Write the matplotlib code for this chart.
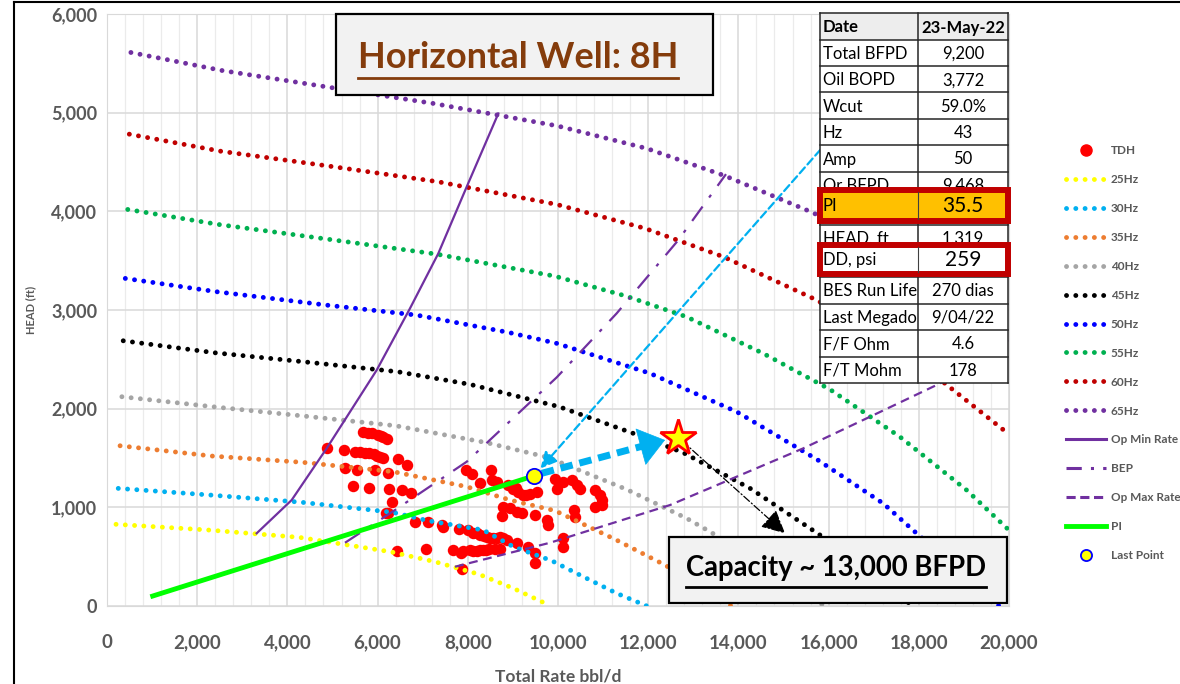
import matplotlib
matplotlib.use("Agg")
import matplotlib.pyplot as plt
from matplotlib.lines import Line2D
from matplotlib.patches import Rectangle
from matplotlib.ticker import MultipleLocator, FuncFormatter

plt.rcParams['font.family'] = ['Lato', 'DejaVu Sans']

# ---- measured TDH points (rate bbl/d, head ft) ----
tdh_x = [4880, 5680, 5780, 5870, 6010, 6070, 6130, 6210,
         5260, 5500, 5600, 5720, 5820, 5920, 5990, 6050, 6130,
         5280, 5550, 5940, 6240, 6460, 6660,
         5460, 5820, 6260, 6530, 6730, 6310, 6190, 6230, 6420, 7070,
         7950, 8085, 8270, 8505, 8530, 8640, 8900, 9010, 9120, 9230, 9380, 9525,
         9060, 9300, 8790, 8935, 9080, 9195, 8750, 9490, 9760, 9785, 10360, 10375,
         6830, 7125, 7435, 7460, 7810, 8010, 8120, 8200, 8270, 8350, 8420, 8500,
         8565, 8650, 8715, 8780, 8860, 9085,
         7680, 7840, 7900, 8050, 8120, 8195, 8270, 8345, 8400, 8475, 8600, 8715,
         9340, 9490, 9490, 10115, 10115, 7865,
         9930, 10115, 10300, 10415, 10485, 9970, 10820, 10930, 10965, 10820, 10965]
tdh_y = [1600, 1760, 1755, 1750, 1730, 1725, 1715, 1690,
         1580, 1560, 1560, 1555, 1550, 1540, 1525, 1510, 1495,
         1395, 1380, 1380, 1345, 1485, 1425,
         1215, 1200, 1190, 1180, 1150, 1055, 945, 940, 560, 575,
         1380, 1335, 1250, 1380, 1275, 1260, 1225, 1190, 1160, 1125, 1140, 1160,
         1200, 1130, 1005, 990, 955, 940, 910, 920, 870, 820, 970, 905,
         855, 855, 820, 805, 785, 770, 735, 740, 720, 710, 700, 690,
         685, 690, 700, 690, 670, 635,
         565, 540, 560, 565, 562, 560, 565, 565, 570, 575, 575, 578,
         600, 540, 440, 685, 600, 372,
         1285, 1260, 1275, 1225, 1190, 1190, 1180, 1125, 1075, 1005, 1025]

# ---- pump curves ----
hz25_x = [200, 2250, 4260, 6280, 7270, 8250, 9010, 9750]
hz25_y = [828, 770, 696, 550, 449, 321, 179, 20]
hz30_x = [250, 2280, 4320, 6340, 7120, 8340, 9010, 9860, 10560, 11300, 11970]
hz30_y = [1192, 1125, 1051, 949, 864, 770, 601, 459, 297, 129, 0]
hz35_x = [290, 2320, 4340, 6350, 7975, 8936, 9933, 11264, 12373, 13840]
hz35_y = [1624, 1520, 1456, 1361, 1209, 1074, 966, 676, 415, 0]
hz40_x = [330, 2360, 4370, 6400, 8420, 9770, 11520, 12850, 13370, 14700, 15900]
hz40_y = [2121, 2019, 1925, 1827, 1655, 1507, 1182, 889, 753, 380, 0]
hz45_x = [360, 2400, 4430, 6450, 8050, 10030, 11820, 12780, 14260, 15810, 17870]
hz45_y = [2688, 2566, 2472, 2374, 2246, 2019, 1725, 1553, 1192, 719, 0]
hz50_x = [406, 2430, 4860, 6870, 8900, 9970, 12040, 13960, 15740, 17210, 17950, 18800, 19780]
hz50_y = [3320, 3185, 3050, 2948, 2773, 2662, 2358, 1969, 1486, 1040, 737, 400, 0]
hz55_x = [460, 2470, 4890, 7310, 9930, 11510, 12850, 14550, 16030, 17580, 19060, 19980]
hz55_y = [4019, 3867, 3718, 3566, 3343, 3141, 2931, 2560, 2195, 1715, 1175, 777]
hz60_x = [495, 2510, 4930, 7350, 9970, 11930, 13670, 15740, 17200, 18580, 19910]
hz60_y = [4782, 4610, 4458, 4299, 4070, 3827, 3539, 3100, 2700, 2256, 1773]
hz65_x = [530, 2540, 4960, 7240, 9985, 11970, 13700, 15660, 17500, 19980]
hz65_y = [5610, 5428, 5255, 5093, 4866, 4637, 4360, 3985, 3500, 2690]

# ---- operating envelope ----
opmin_x = [3319, 4095, 4871, 5980, 6718, 7346, 7975, 8677]
opmin_y = [737, 1074, 1598, 2391, 3016, 3573, 4248, 4992]
bep_x = [5277, 6275, 7975, 9971, 11301, 12667, 13725]
bep_y = [641, 939, 1462, 2317, 2966, 3708, 4377]
opmax_x = [7716, 9823, 12483, 15439, 16844, 18470, 19978]
opmax_y = [398, 641, 1023, 1598, 1902, 2256, 2695]
pi_x = [1013, 9468]
pi_y = [101, 1319]
last_x = [9468]
last_y = [1319]
star_x = [12668]
star_y = [1705]

# arrows (tail -> tip)
thick_arrow = [(9640, 1345), (12373, 1682)]
thin_arrow = [(15990, 4714), (9468, 1319)]
black_arrow = [(12760, 1670), (15033, 737)]

# ---- info table ----
tbl_labels = ['Date', 'Total BFPD', 'Oil BOPD', 'Wcut', 'Hz', 'Amp', 'Or BFPD',
              'PI', 'HEAD, ft', 'DD, psi', 'BES Run Life', 'Last Megado',
              'F/F Ohm', 'F/T Mohm']
tbl_values = ['23-May-22', '9,200', '3,772', '59.0%', '43', '50', '9,468',
              '35.5', '1,319', '259', '270 dias', '9/04/22', '4.6', '178']

GRAY = '#595959'
curve_styles = [
    ('25Hz', hz25_x, hz25_y, '#FFFF00'),
    ('30Hz', hz30_x, hz30_y, '#00B0F0'),
    ('35Hz', hz35_x, hz35_y, '#ED7D31'),
    ('40Hz', hz40_x, hz40_y, '#A5A5A5'),
    ('45Hz', hz45_x, hz45_y, '#000000'),
    ('50Hz', hz50_x, hz50_y, '#0000FF'),
    ('55Hz', hz55_x, hz55_y, '#00B050'),
    ('60Hz', hz60_x, hz60_y, '#C00000'),
    ('65Hz', hz65_x, hz65_y, '#7030A0'),
]
DOT = dict(lw=3.5, linestyle=(0, (0.01, 1.9)), dash_capstyle='round')
PURPLE = '#7030A0'
CYAN = '#00B0F0'

fig = plt.figure(figsize=(11.8, 6.84), dpi=100)
ax = fig.add_axes([107 / 1180, 1 - 606 / 684, 902 / 1180, 592 / 684])

ax.scatter(tdh_x, tdh_y, s=68, color='#FF0000', zorder=2, linewidths=0)
for name, xs, ys, c in curve_styles:
    ax.plot(xs, ys, color=c, zorder=3, **DOT)

ax.plot(opmin_x, opmin_y, color=PURPLE, lw=1.6, zorder=3)
ax.plot(bep_x, bep_y, color=PURPLE, lw=1.6, linestyle=(0, (8, 5, 1.5, 5)), zorder=3)
ax.plot(opmax_x, opmax_y, color=PURPLE, lw=1.6, linestyle=(0, (4, 2.5)), zorder=3)
ax.plot(pi_x, pi_y, color='#00FF00', lw=3.5, zorder=4)

# arrows
ax.annotate('', xy=thick_arrow[1], xytext=thick_arrow[0],
            arrowprops=dict(arrowstyle='-', lw=5, ls=(0, (1.8, 1.0)), color=CYAN,
                            capstyle='butt', shrinkA=0, shrinkB=12), zorder=5)
ax.annotate('', xy=thick_arrow[1], xytext=(12000, 1635),
            arrowprops=dict(arrowstyle='-|>,head_length=0.8,head_width=0.6',
                            mutation_scale=22, lw=0.5, color=CYAN,
                            shrinkA=0, shrinkB=0), zorder=5)
ax.annotate('', xy=thin_arrow[1], xytext=thin_arrow[0],
            arrowprops=dict(arrowstyle='-|>,head_length=0.7,head_width=0.35',
                            mutation_scale=14, lw=1.6, ls=(0, (3.5, 1.8)), color=CYAN,
                            shrinkA=0, shrinkB=7), zorder=5)
ax.annotate('', xy=black_arrow[1], xytext=black_arrow[0],
            arrowprops=dict(arrowstyle='-|>,head_length=0.9,head_width=0.45',
                            mutation_scale=16, lw=0.9, ls=(0, (6, 2, 1, 2)), color='black',
                            shrinkA=0, shrinkB=0), zorder=5)

ax.plot(last_x, last_y, 'o', ms=11, mfc='#FFFF00', mec='#0000FF', mew=1.3, zorder=6)
ax.plot(star_x, star_y, '*', ms=27, mfc='#FFFF00', mec='#FF0000', mew=2, zorder=6)

ax.set_xlim(0, 20000)
ax.set_ylim(0, 6000)
ax.xaxis.set_major_locator(MultipleLocator(2000))
ax.xaxis.set_minor_locator(MultipleLocator(400))
ax.yaxis.set_major_locator(MultipleLocator(1000))
fmt = FuncFormatter(lambda v, p: f'{int(v):,}')
ax.xaxis.set_major_formatter(fmt)
ax.yaxis.set_major_formatter(fmt)
ax.grid(which='major', color='#D9D9D9', lw=1.1, zorder=0)
ax.grid(which='minor', axis='x', color='#EBEBEB', lw=0.9, zorder=0)
ax.set_axisbelow(True)
ax.tick_params(which='both', length=0)
ax.tick_params(axis='x', pad=20, labelsize=13.5, labelcolor=GRAY)
ax.tick_params(axis='y', pad=7, labelsize=13, labelcolor=GRAY)
for lbl in ax.get_xticklabels() + ax.get_yticklabels():
    lbl.set_fontweight('bold')
for s in ax.spines.values():
    s.set_color('#D9D9D9')

ax.set_xlabel('Total Rate bbl/d', fontsize=12.5, fontweight='bold', color=GRAY)
ax.xaxis.set_label_coords(0.5, (606 - 669) / 592)
ax.set_ylabel('HEAD (ft)', fontsize=8, fontweight='bold', color=GRAY)
ax.yaxis.set_label_coords((36 - 107) / 902, 0.5)

# legend
handles = [Line2D([], [], marker='o', ls='none', ms=8, mfc='#FF0000', mec='#FF0000')]
labels = ['TDH']
for name, xs, ys, c in curve_styles:
    handles.append(Line2D([], [], color=c, **DOT))
    labels.append(name)
handles += [Line2D([], [], color=PURPLE, lw=2.2),
            Line2D([], [], color=PURPLE, lw=2.2, ls=(0, (5, 3, 1, 3))),
            Line2D([], [], color=PURPLE, lw=2.2, ls=(0, (3, 1.5))),
            Line2D([], [], color='#00FF00', lw=3.5),
            Line2D([], [], marker='o', ls='none', ms=8, mfc='#FFFF00', mec='#0000FF', mew=1.3)]
labels += ['Op Min Rate', 'BEP', 'Op Max Rate', 'PI', 'Last Point']
fig.legend(handles, labels, loc='upper left', bbox_to_anchor=(1066 / 1180, 1 - 145 / 684),
           frameon=False, prop=dict(size=8.5, weight='bold'), labelcolor=GRAY,
           handlelength=3.4, handletextpad=0.4, labelspacing=1.52,
           borderpad=0, borderaxespad=0)

# ---- overlay in pixel coordinates for boxes and table ----
ov = fig.add_axes([0, 0, 1, 1], zorder=10)
ov.set_xlim(0, 1180)
ov.set_ylim(684, 0)
ov.axis('off')

# frame
ov.plot([14, 14], [684, 1.5], color='black', lw=1.5)
ov.plot([14, 1180], [1.5, 1.5], color='black', lw=1.5)

# title box
ov.add_patch(Rectangle((336, 14), 377, 81, fc='#F2F2F2', ec='black', lw=1.6))
title = ov.text(518, 57, 'Horizontal Well: 8H', ha='center', va='center',
                fontsize=26, fontweight='bold', color='#843C0C')
ov.add_patch(Rectangle((669, 537), 338, 66, fc='#F2F2F2', ec='black', lw=1.6))
cap_txt = ov.text(836, 568, 'Capacity ~ 13,000 BFPD', ha='center', va='center',
                  fontsize=19.8, fontweight='bold', color='black')

fig.canvas.draw()
inv = ov.transData.inverted()
for t, yline, col in [(title, 78, '#843C0C'), (cap_txt, 587, 'black')]:
    bb = t.get_window_extent()
    (x0, _), (x1, _) = inv.transform([[bb.x0, bb.y0], [bb.x1, bb.y1]])
    ov.plot([x0, x1], [yline, yline], color=col, lw=2)

# table
tx0, tx1, tx2 = 820, 918, 1008
ty0, rh = 13.3, 26.4
nrows = len(tbl_labels)
ov.add_patch(Rectangle((tx0, ty0), tx2 - tx0, rh, fc='#EDEDED', ec='none'))
ov.add_patch(Rectangle((tx0, ty0 + rh), tx2 - tx0, rh * (nrows - 1), fc='white', ec='none'))
for i in range(nrows + 1):
    ov.plot([tx0, tx2], [ty0 + i * rh] * 2, color='#262626', lw=1.1)
for xx in (tx0, tx1, tx2):
    ov.plot([xx, xx], [ty0, ty0 + nrows * rh], color='#262626', lw=1.1)
for i, (lab, val) in enumerate(zip(tbl_labels, tbl_values)):
    yc = ty0 + (i + 0.5) * rh + 1
    w = 'bold' if i == 0 else 'normal'
    ov.text(tx0 + 3, yc, lab, ha='left', va='center', fontsize=12, fontweight=w, color='black')
    ov.text((tx1 + tx2) / 2, yc, val, ha='center', va='center', fontsize=12, fontweight=w,
            color='black')

# highlighted PI and DD boxes
for (y_top, y_bot, fc, lab, val) in [(190, 220.5, '#FFC000', tbl_labels[7], tbl_values[7]),
                                     (244.7, 273.7, 'white', tbl_labels[9], tbl_values[9])]:
    ov.add_patch(Rectangle((820, y_top), 188, y_bot - y_top, fc=fc, ec='#C00000', lw=4.3,
                           zorder=3))
    ov.plot([tx1, tx1], [y_top + 2, y_bot - 2], color='#404040', lw=0.8, zorder=4)
    yc = (y_top + y_bot) / 2 + 1
    ov.text(tx0 + 3, yc, lab, ha='left', va='center', fontsize=12, color='black', zorder=5)
    ov.text((tx1 + tx2) / 2, yc, val, ha='center', va='center', fontsize=15, color='black',
            zorder=5)

fig.savefig('out.png', dpi=100)
